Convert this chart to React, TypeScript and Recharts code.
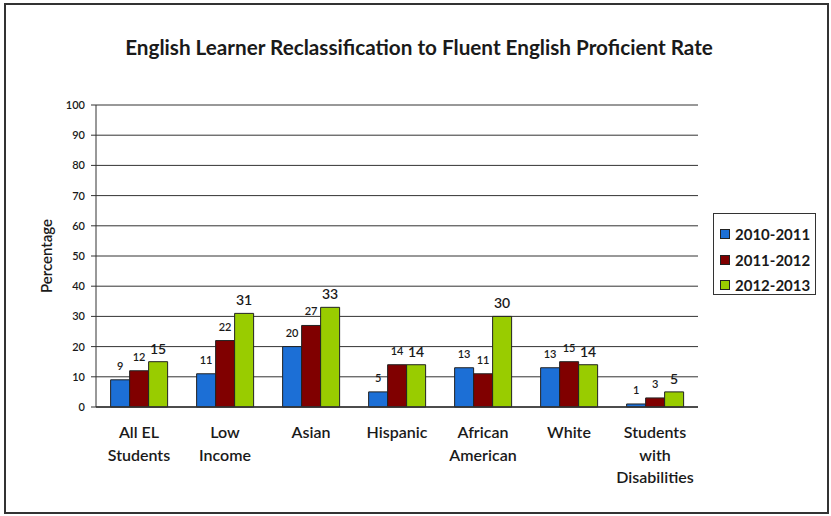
import { BarChart, Bar, XAxis, YAxis, CartesianGrid, LabelList, Label } from "recharts";

// the figure fills the window edge to edge, so drop the default body margin
document.body.style.margin = "0";

// categories and values (percent)
const CATEGORIES = [
  "All EL\nStudents",
  "Low\nIncome",
  "Asian",
  "Hispanic",
  "African\nAmerican",
  "White",
  "Students\nwith\nDisabilities",
];
const RATE_2011 = [9, 11, 20, 5, 13, 13, 1];
const RATE_2012 = [12, 22, 27, 14, 11, 15, 3];
const RATE_2013 = [15, 31, 33, 14, 30, 14, 5];
const Y_TICKS = [0, 10, 20, 30, 40, 50, 60, 70, 80, 90, 100];

const SERIES = [
  { key: "r2011", name: "2010-2011", color: "#1c6fd6" },
  { key: "r2012", name: "2011-2012", color: "#800000" },
  { key: "r2013", name: "2012-2013", color: "#99cc00" },
];

const FONT = "Lato, 'Open Sans', sans-serif";
const INK = "#1a1a1a";

const data = CATEGORIES.map((name, i) => ({
  name,
  r2011: RATE_2011[i],
  r2012: RATE_2012[i],
  r2013: RATE_2013[i],
}));

// category boundaries for the small tick marks under the x axis
const BOUNDARIES = [...CATEGORIES.map((_, i) => i), CATEGORIES.length];

function CategoryTick({ x, y, payload }: any) {
  const lines = String(payload.value).split("\n");
  return (
    <text x={x} y={y} textAnchor="middle" fontFamily={FONT} fontSize={16} fontWeight={600} fill={INK}>
      {lines.map((line, i) => (
        <tspan key={i} x={x} dy={i === 0 ? 31 : 22.5}>
          {line}
        </tspan>
      ))}
    </text>
  );
}

export default function App() {
  return (
    <div
      style={{
        position: "relative",
        width: 831,
        height: 516,
        background: "#fff",
        fontFamily: FONT,
        color: INK,
      }}
    >
      <div
        style={{
          position: "absolute",
          top: 35,
          left: 0,
          width: 838,
          textAlign: "center",
          fontSize: 20.7,
          fontWeight: 700,
          lineHeight: "24px",
        }}
      >
        English Learner Reclassification to Fluent English Proficient Rate
      </div>

      <div style={{ position: "absolute", left: 0, top: 0 }}>
        <BarChart
          width={831}
          height={516}
          data={data}
          margin={{ top: 105, right: 133, bottom: 0, left: 0 }}
          barCategoryGap="17%"
          barGap={0}
        >
          {/* outer frame of the figure */}
          <rect x={5} y={4} width={823} height={509} fill="none" stroke="#333" strokeWidth={2} />
          <CartesianGrid vertical={false} stroke="#333" strokeWidth={1} />
          <XAxis
            xAxisId="b"
            type="number"
            domain={[0, CATEGORIES.length]}
            ticks={BOUNDARIES}
            tick={false}
            tickSize={5}
            tickLine={{ stroke: "#333" }}
            axisLine={false}
            height={0}
          />
          <XAxis
            dataKey="name"
            interval={0}
            tick={<CategoryTick />}
            tickLine={false}
            tickSize={0}
            tickMargin={0}
            height={109}
            axisLine={{ stroke: "#333", strokeWidth: 1.5 }}
          />
          <YAxis
            domain={[0, 100]}
            ticks={Y_TICKS}
            interval={0}
            width={96}
            tickSize={5}
            tickMargin={6}
            tickLine={{ stroke: "#333" }}
            axisLine={{ stroke: "#333" }}
            tick={{ fontSize: 11, fontWeight: 600, fill: INK, fontFamily: FONT }}
          >
            <Label
              value="Percentage"
              angle={-90}
              position="center"
              dx={-1}
              style={{ fontSize: 15, fontWeight: 600, fill: INK, fontFamily: FONT }}
            />
          </YAxis>
          <YAxis
            yAxisId="right"
            orientation="right"
            domain={[0, 100]}
            tick={false}
            tickLine={false}
            width={0}
            axisLine={{ stroke: "#333" }}
          />
          {SERIES.map((s, i) => (
            <Bar
              key={s.key}
              dataKey={s.key}
              name={s.name}
              fill={s.color}
              stroke="#222"
              strokeWidth={1}
              isAnimationActive={false}
            >
              <LabelList
                dataKey={s.key}
                position="top"
                offset={i === 2 ? 8 : 10}
                style={{
                  fontSize: i === 2 ? 14 : 11,
                  fontWeight: 600,
                  fill: INK,
                  fontFamily: FONT,
                }}
              />
            </Bar>
          ))}
        </BarChart>
      </div>

      <div
        style={{
          position: "absolute",
          left: 713,
          top: 213,
          width: 103,
          height: 82,
          border: "1.5px solid #333",
          boxSizing: "border-box",
          paddingTop: 7,
        }}
      >
        {SERIES.map((s) => (
          <div
            key={s.key}
            style={{
              display: "flex",
              alignItems: "center",
              height: 25.7,
              fontSize: 15,
              fontWeight: 700,
              paddingLeft: 6,
            }}
          >
            <span
              style={{
                display: "inline-block",
                width: 8,
                height: 8,
                background: s.color,
                border: "1px solid #222",
                marginRight: 5,
              }}
            />
            {s.name}
          </div>
        ))}
      </div>
    </div>
  );
}
